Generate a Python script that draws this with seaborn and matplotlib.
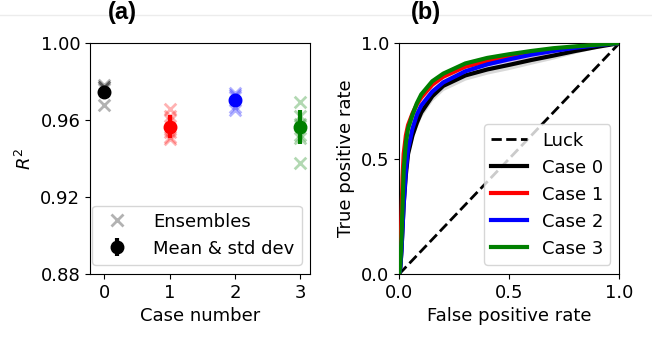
import numpy as np
import pandas as pd
import matplotlib
matplotlib.use("Agg")
import matplotlib.pyplot as plt
import seaborn as sns
from matplotlib.lines import Line2D

# Panel (a): R^2 per case
cases = [0, 1, 2, 3]
case_colors = ["black", "red", "blue", "green"]
ens_case0 = [0.978, 0.977, 0.977, 0.976, 0.968]
ens_case1 = [0.966, 0.962, 0.960, 0.954, 0.951, 0.950]
ens_case2 = [0.974, 0.973, 0.972, 0.967, 0.965]
ens_case3 = [0.9695, 0.962, 0.958, 0.952, 0.9505, 0.9375]
r2_mean = [0.9748, 0.9565, 0.9704, 0.9565]
r2_std = [0.003, 0.006, 0.003, 0.0087]

# Panel (b): ROC curves
fpr = [0, 0.005, 0.01, 0.015, 0.02, 0.03, 0.04, 0.06, 0.08, 0.1,
       0.15, 0.2, 0.3, 0.4, 0.5, 0.6, 0.7, 0.8, 0.9, 1.0]
tpr_case0 = [0, 0.03, 0.1, 0.2, 0.3, 0.43, 0.52, 0.6, 0.655, 0.7,
             0.77, 0.815, 0.86, 0.886, 0.906, 0.927, 0.946, 0.966, 0.984, 1.0]
tpr_case1 = [0, 0.08, 0.25, 0.42, 0.52, 0.6, 0.645, 0.695, 0.735, 0.765,
             0.82, 0.855, 0.898, 0.922, 0.94, 0.957, 0.971, 0.983, 0.993, 1.0]
tpr_case2 = [0, 0.03, 0.1, 0.2, 0.3, 0.45, 0.54, 0.63, 0.69, 0.73,
             0.79, 0.83, 0.878, 0.908, 0.93, 0.95, 0.966, 0.98, 0.991, 1.0]
tpr_case3 = [0, 0.05, 0.15, 0.3, 0.45, 0.57, 0.63, 0.69, 0.74, 0.778,
             0.835, 0.868, 0.912, 0.936, 0.952, 0.966, 0.978, 0.986, 0.993, 1.0]
# ensemble spread below / above each mean curve
spread_lo = [0, 0, 0, 0.01, 0.01, 0.015, 0.015, 0.02, 0.02, 0.02,
             0.02, 0.02, 0.02, 0.02, 0.02, 0.018, 0.015, 0.01, 0.005, 0]
spread_hi = [0, 0, 0, 0.005, 0.005, 0.008, 0.008, 0.01, 0.01, 0.01,
             0.01, 0.01, 0.01, 0.01, 0.008, 0.006, 0.005, 0.004, 0.002, 0]

plt.rcParams["font.family"] = ["DejaVu Sans"]
plt.rcParams["font.size"] = 13

fig, (ax1, ax2) = plt.subplots(1, 2, figsize=(6.52, 3.37), dpi=100)
fig.subplots_adjust(left=0.138, right=0.95, bottom=0.187, top=0.872, wspace=0.405)

# faint separator line behind the titles
fig.add_artist(Line2D([0, 1], [0.955, 0.955], transform=fig.transFigure,
                      color="#ececec", lw=1, zorder=0))

# ---- (a)
ens = [ens_case0, ens_case1, ens_case2, ens_case3]
rows = []
for c, vals in zip(cases, ens):
    for v in vals:
        rows.append((c, v))
df_ens = pd.DataFrame(rows, columns=["case", "r2"])

for c, col in zip(cases, case_colors):
    sub = df_ens[df_ens.case == c]
    sns.scatterplot(x=sub.case, y=sub.r2, ax=ax1, marker="x", s=70,
                    color=col, alpha=0.3, linewidth=2, zorder=2)
    ax1.errorbar(c, r2_mean[c], yerr=r2_std[c], fmt="o", color=col,
                 ms=9, elinewidth=3, zorder=3)

ax1.set_xlim(-0.22, 3.15)
ax1.set_ylim(0.88, 1.0)
ax1.set_xticks(cases)
ax1.set_yticks([0.88, 0.92, 0.96, 1.00])
ax1.set_xlabel("Case number")
ax1.set_ylabel("$R^2$")

h_ens = Line2D([], [], marker="x", ls="none", color="black", alpha=0.3, ms=8, mew=2)
h_mean = ax1.errorbar([], [], yerr=[], fmt="o", color="black", ms=9, elinewidth=3)
ax1.legend([h_ens, h_mean], ["Ensembles", "Mean & std dev"], loc="lower left",
           bbox_to_anchor=(0.009, 0.039), borderaxespad=0, fontsize=13,
           handletextpad=1.0)

# ---- (b)
tprs = [tpr_case0, tpr_case1, tpr_case2, tpr_case3]
roc_rows = []
for c, t in zip(cases, tprs):
    for f, v in zip(fpr, t):
        roc_rows.append((f"Case {c}", f, v))
df_roc = pd.DataFrame(roc_rows, columns=["case", "fpr", "tpr"])

ax2.plot([0, 1], [0, 1], "k--", lw=2, label="Luck", zorder=1)
for c, col, t in zip(cases, case_colors, tprs):
    t = np.array(t)
    ax2.fill_between(fpr, t - np.array(spread_lo), t + np.array(spread_hi),
                     color=col, alpha=0.15, lw=0, zorder=2)
sns.lineplot(data=df_roc, x="fpr", y="tpr", hue="case", palette=case_colors,
             lw=3, ax=ax2, estimator=None, sort=False, zorder=3)

ax2.set_xlim(0, 1)
ax2.set_ylim(0, 1)
ax2.set_xticks([0, 0.5, 1])
ax2.set_yticks([0, 0.5, 1])
ax2.set_xticklabels(["0.0", "0.5", "1.0"])
ax2.set_yticklabels(["0.0", "0.5", "1.0"])
ax2.set_xlabel("False positive rate")
ax2.set_ylabel("True positive rate")
ax2.legend(loc="lower right", fontsize=13)

fig.text(0.187, 0.962, "(a)", ha="center", va="center", fontsize=17,
         fontweight="bold", family="Liberation Sans")
fig.text(0.653, 0.962, "(b)", ha="center", va="center", fontsize=17,
         fontweight="bold", family="Liberation Sans")

fig.savefig("out.png", dpi=100)
